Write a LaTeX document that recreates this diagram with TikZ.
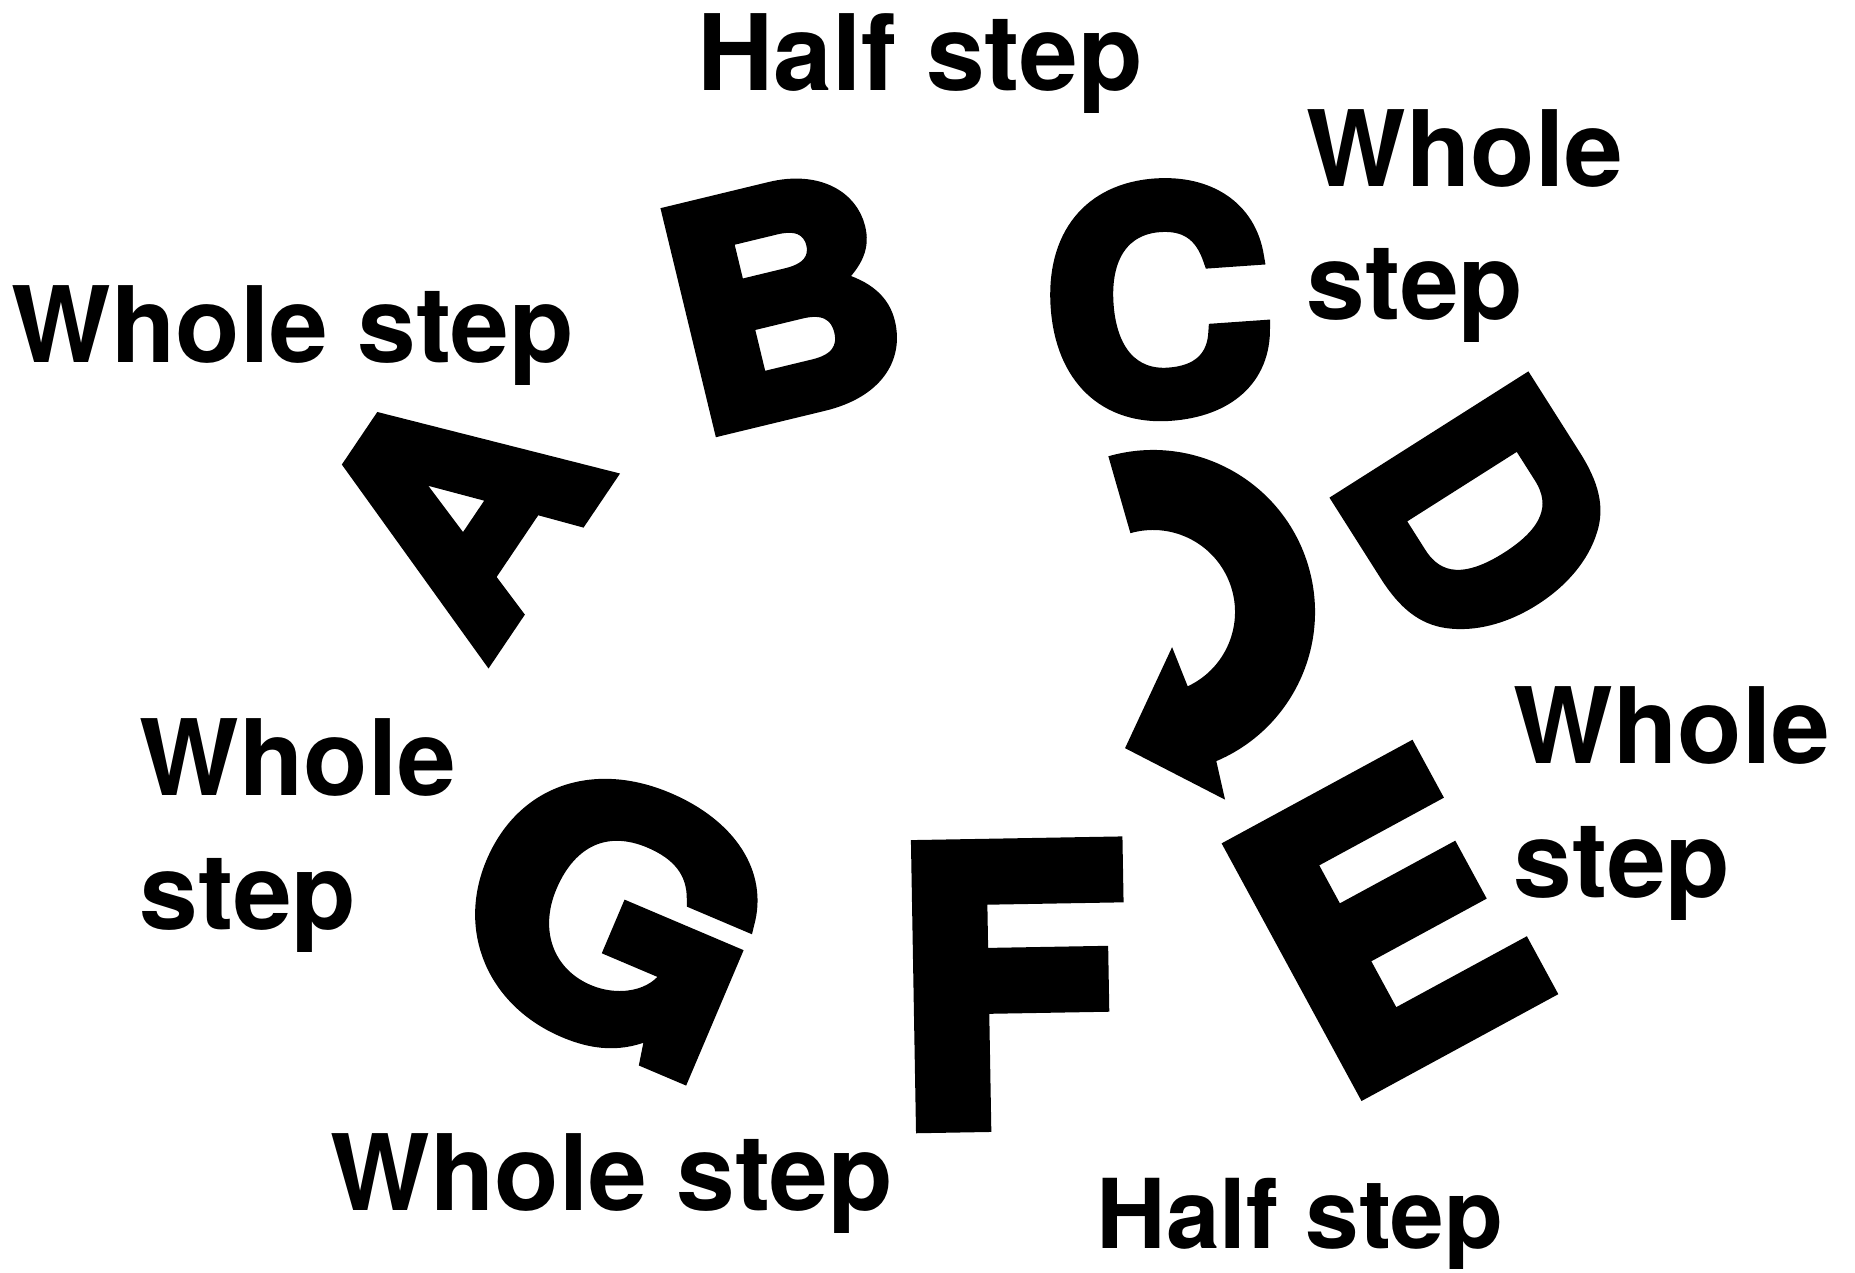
\documentclass[tikz,border=0pt]{standalone}
\usepackage{fontspec}
\setmainfont{TeX Gyre Heros}
\newfontfamily\heavyfont{TeX Gyre Heros}[BoldFeatures={FakeBold=5}]
\usetikzlibrary{calc}

\begin{document}
\begin{tikzpicture}[
  x=0.01cm, y=0.01cm,
  letter/.style={inner sep=0pt, font=\heavyfont\bfseries\fontsize{86}{86}\selectfont},
  bigletter/.style={inner sep=0pt, font=\heavyfont\bfseries\fontsize{107}{107}\selectfont},
  steplabel/.style={inner sep=0pt, anchor=base west, align=left,
                    font=\bfseries\fontsize{30}{38}\selectfont}
]
\useasboundingbox (0,0) rectangle (1855,1272);

\node[letter, rotate=56, xscale=1.04] (A) at (456,766) {A};
\node[letter, rotate=13.6, xscale=1.05] (B) at (782,972) {B};
\node[letter, rotate=4, xscale=1.04] (C) at (1158,972) {C};
\node[letter, rotate=-57.6, xscale=1.02] (D) at (1480,757) {D};
\node[bigletter, rotate=28.5] (E) at (1384,350) {E};
\node[bigletter, rotate=1] (F) at (1010,287) {F};
\node[letter, rotate=-23, xscale=1.25, yscale=1.1] (G) at (616,357) {G};

\coordinate (turn) at (1153,660);
\fill (turn) ++(106:162) arc[start angle=106, end angle=-67, radius=162]
  -- ($(turn)+(-69:201)$) -- ($(turn)+(-101.6:139)$) -- ($(turn)+(-61.5:40)$)
  -- ($(turn)+(-65:82)$) arc[start angle=-65, end angle=106, radius=82] -- cycle;

\node[steplabel] (half1) at (697,1181) {Half step};
\node[steplabel] (whole1) at (11,909) {Whole step};
\node[steplabel] (whole2) at (1306,952) {Whole\\step};
\node[steplabel] (whole3) at (1513,375) {Whole\\step};
\node[steplabel] (whole4) at (139,343) {Whole\\step};
\node[steplabel] (whole5) at (330,62) {Whole step};
\node[steplabel, font=\bfseries\fontsize{27.4}{33}\selectfont] (half2) at (1096,24) {Half step};
\end{tikzpicture}
\end{document}
